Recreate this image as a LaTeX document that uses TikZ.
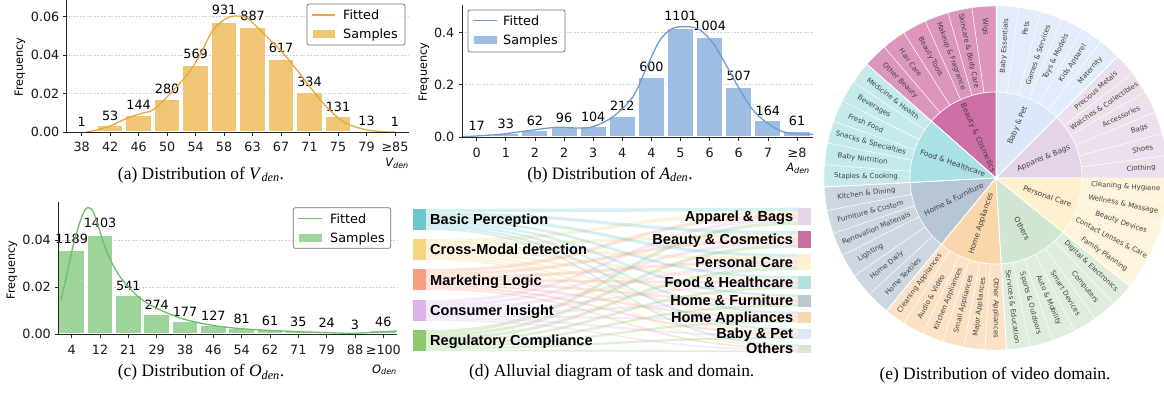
\documentclass[tikz,border=0pt]{standalone}
\usepackage{xcolor}
\usepackage{fontspec}
\setmainfont{Liberation Serif}
\newfontfamily\dejavu{DejaVu Sans}
\newfontfamily\arialf{Liberation Sans}
\newcommand\sbfont{\dejavu\fontsize{7}{7}\selectfont}
\newcommand\sbinfont{\dejavu\fontsize{7.4}{7.4}\selectfont}
\definecolor{barA}{HTML}{F0C674}\definecolor{cA}{HTML}{E8A93A}
\definecolor{barB}{HTML}{9DBDE3}\definecolor{cB}{HTML}{6E9DD4}
\definecolor{barC}{HTML}{9ED39A}\definecolor{cC}{HTML}{6BBF68}
\definecolor{cBP}{HTML}{6CC6CC}\definecolor{cCM}{HTML}{F6D480}
\definecolor{cML}{HTML}{F6A080}\definecolor{cCI}{HTML}{DCB4EB}
\definecolor{cRC}{HTML}{8CC86E}
\definecolor{rAB}{HTML}{E5D5E8}\definecolor{rBC}{HTML}{CC6FA0}
\definecolor{rPC}{HTML}{FDF0D0}\definecolor{rFH}{HTML}{B2E2E2}
\definecolor{rHF}{HTML}{BCC8D4}\definecolor{rHA}{HTML}{F8D5B0}
\definecolor{rBP}{HTML}{DCE8F8}\definecolor{rOT}{HTML}{D5E8D0}
\definecolor{sbBeI}{HTML}{CD6EA5}\definecolor{sbBeO}{HTML}{DC96BE}
\definecolor{sbBaI}{HTML}{DAE8FA}\definecolor{sbBaO}{HTML}{E3ECFA}
\definecolor{sbApI}{HTML}{E4D4E8}\definecolor{sbApO}{HTML}{EBE0EC}
\definecolor{sbFoI}{HTML}{AAE1E4}\definecolor{sbFoO}{HTML}{C5EAEB}
\definecolor{sbHFI}{HTML}{B7C6D4}\definecolor{sbHFO}{HTML}{CDD7E1}
\definecolor{sbHAI}{HTML}{FAD7AA}\definecolor{sbHAO}{HTML}{FBE2C7}
\definecolor{sbOtI}{HTML}{D0E6D2}\definecolor{sbOtO}{HTML}{DFEDDE}
\definecolor{sbPCI}{HTML}{FEF0CD}\definecolor{sbPCO}{HTML}{FEF4DB}
\def\sbdata{0/45/sbApI/sbApO/{Apparel \& Bags}/6/{Clothing,Shoes,Bags,Accessories,Watches \& Collectibles,Precious Metals},
 45/90/sbBaI/sbBaO/{Baby \& Pet}/6/{Maternity,Kids Apparel,Toys \& Models,Games \& Services,Pets,Baby Essentials},
 90/138.6/sbBeI/sbBeO/{Beauty \& Cosmetics}/6/{Wigs,Skincare \& Body Care,Makeup \& Fragrance,Beauty Tools,Hair Care,Other Beauty},
 138.6/183/sbFoI/sbFoO/{Food \& Healthcare}/6/{Medicine \& Health,Beverages,Fresh Food,Snacks \& Specialties,Baby Nutrition,Staples \& Cooking},
 183/230.5/sbHFI/sbHFO/{Home \& Furniture}/6/{Kitchen \& Dining,Furniture \& Custom,Renovation Materials,Lighting,Home Daily,Home Textiles},
 230.5/273.5/sbHAI/sbHAO/{Home Appliances}/6/{Cleaning Appliances,Audio \& Video,Kitchen Appliances,Small Appliances,Major Appliances,Other Appliances},
 273.5/321/sbOtI/sbOtO/{Others}/6/{Services \& Education,Sports \& Outdoors,Auto \& Mobility,Smart Devices,Computers,Digital \& Electronics},
 321/360/sbPCI/sbPCO/{Personal Care}/5/{Family Planning,Contact Lenses \& Care,Beauty Devices,Wellness \& Massage,Cleaning \& Hygiene}}
\begin{document}
% measure the sunburst label widths outside the picture
\foreach \sa/\sb/\ci/\co/\lab/\nn/\subs [count=\cc] in \sbdata {%
  \foreach \sname [count=\k] in \subs {%
    \setbox0=\hbox{\sbfont\sname}%
    \expandafter\xdef\csname sbw\cc-\k\endcsname{\the\wd0}%
  }%
  \setbox0=\hbox{\sbinfont\lab}%
  \expandafter\xdef\csname sbwc\cc\endcsname{\the\wd0}%
}%
\begin{tikzpicture}[x=1bp,y=-1bp,
 axisl/.style={line width=0.8, black!85},
 gridl/.style={gray!35, line width=0.5, dash pattern=on 2pt off 1.5pt},
 tickl/.style={font=\dejavu\fontsize{12.8}{13}\selectfont, text=black!90, inner sep=0},
 cntl/.style={font=\dejavu\fontsize{12.8}{13}\selectfont, anchor=base, inner sep=0},
 freq/.style={font=\dejavu\fontsize{11.3}{12}\selectfont, rotate=90, inner sep=0},
 legbox/.style={draw=black!55, fill=white, fill opacity=0.8, rounded corners=2, line width=0.7},
 legtxt/.style={font=\dejavu\fontsize{12.8}{13}\selectfont, anchor=base west, inner sep=0},
 xlab/.style={font=\dejavu\fontsize{11.5}{12}\selectfont\itshape, anchor=base east, inner sep=0},
 captxt/.style={font=\fontsize{17.5}{18}\selectfont, anchor=base, inner sep=0},
 sblab/.style={font=\sbfont, text=black!75, inner sep=0},
 sbin/.style={font=\sbinfont, text=black!75, inner sep=0},
 alab/.style={font=\arialf\bfseries\fontsize{14.6}{15}\selectfont, inner sep=0},
 lnode/.style={minimum width=12.4bp, inner sep=0, draw=none},
 rnode/.style={minimum width=12.7bp, inner sep=0, draw=none}]
\fill[white] (0,0) rectangle (1164,392);
\useasboundingbox (0,0) rectangle (1164,392);

% ================= (a) =================
\foreach \yy in {16.5,55,93.5} \draw[gridl] (66,\yy) -- (409,\yy);
\foreach \lab/\cnt [count=\i from 0] in {38/1,42/53,46/144,50/280,54/569,58/931,63/887,67/617,71/334,75/131,79/13,≥85/1}{
  \pgfmathsetmacro\xx{81.7+28.48*\i}
  \pgfmathsetmacro\hh{\cnt*0.1174}
  \pgfmathsetmacro\yl{132-\hh-5-0.025*\hh}
  \fill[barA, draw=white, line width=1.1] ({\xx-12.8},132) rectangle ({\xx+12.8},{132-\hh});
  \node[cntl] (a-n\i) at (\xx,\yl) {\cnt};
  \draw[axisl] (\xx,132) -- (\xx,135.5);
  \node[tickl, anchor=base] (a-t\i) at (\xx,151.5) {\lab};
}
\draw[cA, line width=1.3] plot[smooth] coordinates {(86,132) (97,130) (110,126) (123,120) (133,116) (143,113) (153,110) (167,97) (187,75) (200,55) (213,30) (227,18) (237,16) (247,18) (257,27) (270,40) (283,53) (297,70) (310,87) (323,103) (337,117) (350,125) (367,130) (383,131.7) (395,132)};
\draw[axisl] (66,0) -- (66,132) -- (409,132);
\foreach \v/\yy [count=\i] in {0.00/132,0.02/93.5,0.04/55,0.06/16.5}{
  \draw[axisl] (66,\yy) -- (62.5,\yy);
  \node[tickl, anchor=base east] (a-y\i) at (59.5,{\yy+4.6}) {\v};
}
\node[freq] (a-f) at (20,67) {Frequency};
\draw[legbox] (307,4) rectangle (405,45);
\draw[cA, line width=1.3] (312,15) -- (335,15);
\node[legtxt] (a-lf) at (343,19.7) {Fitted};
\fill[barA, draw=white, line width=1] (312,29.5) rectangle (335,38.5);
\node[legtxt] (a-ls) at (343,38.7) {Samples};
\node[xlab] (a-xl) at (409,166.5) {V\textsubscript{den}};
\node[captxt] (a-cap) at (201,179) {(a) Distribution of \textit{V}\textsubscript{\textit{den}}.};

% ================= (b) =================
\foreach \yy in {32.4,84.7} \draw[gridl] (462,\yy) -- (813,\yy);
\foreach \lab/\cnt [count=\i from 0] in {0/17,1/33,2/62,2/96,3/104,4/212,4/600,5/1101,6/1004,6/507,7/164,≥8/61}{
  \pgfmathsetmacro\xx{476.7+29.12*\i}
  \pgfmathsetmacro\hh{\cnt*0.0987}
  \pgfmathsetmacro\yl{137-\hh-5-0.025*\hh}
  \fill[barB, draw=white, line width=1.1] ({\xx-13.1},137) rectangle ({\xx+13.1},{137-\hh});
  \node[cntl] (b-n\i) at (\xx,\yl) {\cnt};
  \draw[axisl] (\xx,137) -- (\xx,140.5);
  \node[tickl, anchor=base] (b-t\i) at (\xx,157.5) {\lab};
}
\draw[cB, line width=1.3] plot[smooth] coordinates {(463,136.7) (500,134.3) (533,130) (557,127.3) (577,128) (593,126.7) (613,116.7) (633,96.7) (647,66.7) (660,40) (673,28.3) (688,26.7) (700,30) (713,43) (727,66.7) (740,90) (753,110) (767,123) (783,131.7) (800,134) (813,134.3)};
\draw[axisl] (462,5) -- (462,137) -- (813,137);
\foreach \v/\yy [count=\i] in {0.0/137,0.2/84.7,0.4/32.4}{
  \draw[axisl] (462,\yy) -- (458.5,\yy);
  \node[tickl, anchor=base east] (b-y\i) at (454.5,{\yy+4.6}) {\v};
}
\node[freq] (b-f) at (424,72) {Frequency};
\draw[legbox] (468,10) rectangle (565,52);
\draw[cB, line width=1.3] (473,20.7) -- (497,20.7);
\node[legtxt] (b-lf) at (503,25.4) {Fitted};
\fill[barB, draw=white, line width=1] (473,35.5) rectangle (497,44.5);
\node[legtxt] (b-ls) at (503,44.7) {Samples};
\node[xlab] (b-xl) at (810,171.5) {A\textsubscript{den}};
\node[captxt] (b-cap) at (610,179) {(b) Distribution of \textit{A}\textsubscript{\textit{den}}.};

% ================= (c) =================
\foreach \yy in {240,287} \draw[gridl] (58.3,\yy) -- (397,\yy);
\foreach \lab/\cnt [count=\i from 0] in {4/1189,12/1403,21/541,29/274,38/177,46/127,54/81,62/61,71/35,79/24,88/3,≥100/46}{
  \pgfmathsetmacro\xx{71.7+28.33*\i}
  \pgfmathsetmacro\hh{\cnt*0.0706}
  \pgfmathsetmacro\yl{334-\hh-4.5-0.025*\hh}
  \fill[barC, draw=white, line width=1.1] ({\xx-12.75},334) rectangle ({\xx+12.75},{334-\hh});
  \node[cntl] (c-n\i) at (\xx,\yl) {\cnt};
  \draw[axisl] (\xx,334) -- (\xx,337.5);
  \node[tickl, anchor=base] (c-t\i) at (\xx,354.5) {\lab};
}
\draw[cC, line width=1.3] plot[smooth] coordinates {(61,300) (66.7,275) (73.3,245) (80,221.7) (85,210) (88.3,207.7) (93.3,211.7) (100,231.7) (106.7,251.7) (116.7,271.7) (126.7,285) (140,298.3) (156.7,308.3) (183.3,319) (216.7,326) (250,329.3) (300,331.7) (350,333.3) (366.7,332.7) (396.7,331)};
\draw[axisl] (58.3,202) -- (58.3,334) -- (397,334);
\foreach \v/\yy [count=\i] in {0.00/334,0.02/287,0.04/240}{
  \draw[axisl] (58.3,\yy) -- (54.8,\yy);
  \node[tickl, anchor=base east] (c-y\i) at (51,{\yy+4.6}) {\v};
}
\node[freq] (c-f) at (12,270) {Frequency};
\draw[legbox] (293.3,207.7) rectangle (390.7,248.3);
\draw[cC, line width=1.3] (298,218.3) -- (322,218.3);
\node[legtxt] (c-lf) at (330,223) {Fitted};
\fill[barC, draw=white, line width=1] (298,233) rectangle (322,242);
\node[legtxt] (c-ls) at (330,242.3) {Samples};
\node[xlab] (c-xl) at (397,373) {O\textsubscript{den}};
\node[captxt] (c-cap) at (201,376.7) {(c) Distribution of \textit{O}\textsubscript{\textit{den}}.};

% ================= (d) alluvial =================
\foreach \rt/\rh/\off [count=\j] in {207.7/17.3/0,231/16.7/3.46,254/16/6.8,276/13/10,294.3/12.4/12.6,311.7/11/15.08,328.3/10.7/17.28,344.3/8/19.42}{
  \foreach \lt/\col [count=\i] in {209/cBP,239/cCM,269/cML,300/cCI,330/cRC}{
    \pgfmathsetmacro\tk{\rh/5}
    \pgfmathsetmacro\ya{\lt+\off}
    \pgfmathsetmacro\yb{\ya+\tk}
    \pgfmathsetmacro\yc{\rt+(\i-1)*\tk}
    \pgfmathsetmacro\yd{\yc+\tk}
    \fill[\col, fill opacity=0.28] (426,\ya) .. controls (612,\ya) and (612,\yc) .. (798,\yc) -- (798,\yd) .. controls (612,\yd) and (612,\yb) .. (426,\yb) -- cycle;
  }
}
\foreach \cy/\col/\txt [count=\i] in {219.5/cBP/Basic Perception,249.5/cCM/Cross-Modal detection,279.8/cML/Marketing Logic,310.5/cCI/Consumer Insight,340.5/cRC/Regulatory Compliance}{
  \node[lnode, fill=\col, minimum height=21bp] (L\i) at (419.5,\cy) {};
  \node[alab, anchor=base west] (LT\i) at (430,{\cy+5.3}) {\txt};
}
\foreach \rt/\rh/\col/\txt [count=\j] in {207.7/17.3/rAB/Apparel \& Bags,231/16.7/rBC/Beauty \& Cosmetics,254/16/rPC/Personal Care,276/13/rFH/Food \& Healthcare,294.3/12.4/rHF/Home \& Furniture,311.7/11/rHA/Home Appliances,328.3/10.7/rBP/Baby \& Pet,344.3/8/rOT/Others}{
  \node[rnode, fill=\col, minimum height=\rh bp, anchor=north] (R\j) at (804.7,\rt) {};
  \node[alab, anchor=base east] (RT\j) at (793.3,{\rt+\rh/2+5.3}) {\txt};
}
\node[captxt] (d-cap) at (611.7,376.7) {(d) Alluvial diagram of task and domain.};

% ================= (e) sunburst =================
\begin{scope}[shift={(996,178)},y=1bp]
% pass 1: sectors
\foreach \sa/\sb/\ci/\co/\lab/\nn/\subs [count=\cc] in \sbdata {
  \pgfmathsetmacro\stp{(\sb-\sa)/\nn}
  \foreach \sname [count=\k] in \subs {
    \pgfmathsetmacro\ua{\sa+(\k-1)*\stp}
    \pgfmathsetmacro\ub{\sa+\k*\stp}
    \fill[\co, draw=white, line width=0.4] (\ua:86) -- (\ua:172) arc[start angle=\ua, end angle=\ub, radius=172] -- (\ub:86) arc[start angle=\ub, end angle=\ua, radius=86] -- cycle;
  }
  \fill[\ci, draw=white, line width=0.6] (0,0) -- (\sa:86) arc[start angle=\sa, end angle=\sb, radius=86] -- cycle;
  \draw[white, line width=0.8] (0,0) -- (\sa:172);
}
% pass 2: labels
\foreach \sa/\sb/\ci/\co/\lab/\nn/\subs [count=\cc] in \sbdata {
  \pgfmathsetmacro\stp{(\sb-\sa)/\nn}
  \foreach \sname [count=\k] in \subs {
    \pgfmathsetmacro\um{\sa+(\k-0.5)*\stp}
    \edef\tw{\csname sbw\cc-\k\endcsname}
    \pgfmathsetmacro\rc{max(130,160-0.5*\tw)}
    \pgfmathsetmacro\ur{cos(\um)>-0.05 ? \um : \um-180}
    \node[sblab, rotate=\ur] (sb\cc-\k) at (\um:\rc) {\sname};
  }
  \pgfmathsetmacro\cmid{(\sa+\sb)/2}
  \edef\tw{\csname sbwc\cc\endcsname}
  \pgfmathsetmacro\rci{max(44,min(57,80-0.5*\tw))}
  \pgfmathsetmacro\crot{cos(\cmid)>-0.05 ? \cmid : \cmid-180}
  \node[sbin, rotate=\crot] (sbc\cc) at (\cmid:\rci) {\lab};
}
\end{scope}
\node[captxt] (e-cap) at (995,379) {(e) Distribution of video domain.};
\end{tikzpicture}
\end{document}
